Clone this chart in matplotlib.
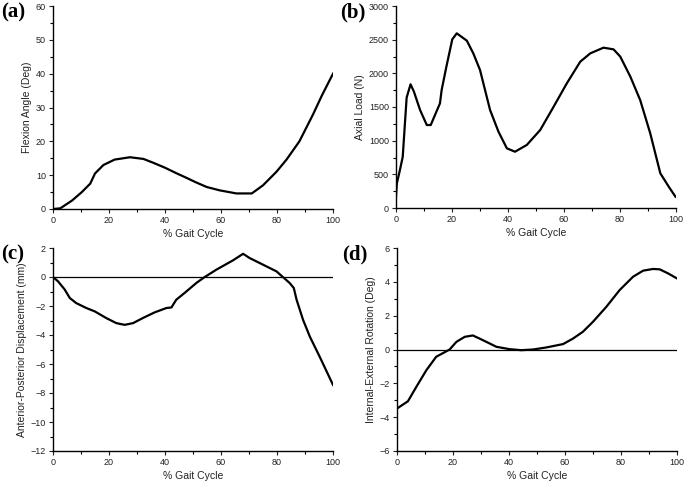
import matplotlib
matplotlib.use("Agg")
import matplotlib.pyplot as plt
from matplotlib.ticker import MultipleLocator

plt.rcParams['font.family'] = ['Liberation Sans', 'DejaVu Sans']

# (a) Flexion angle
flex_x = [0, 2.6, 6.8, 10.3, 13.3, 15, 18, 22, 27.5, 32.3, 36, 40, 44, 47.7, 51, 54.9, 59.6, 65.5, 71, 75, 79.8, 83.4, 88, 92.9, 96, 100]
flex_y = [0, 0.2, 2.5, 5, 7.5, 10.5, 13, 14.6, 15.3, 14.8, 13.6, 12.2, 10.6, 9.2, 7.9, 6.5, 5.5, 4.6, 4.6, 7, 11, 14.6, 20, 28, 33.5, 40]

# (b) Axial load
load_x = [0, 0.3, 1.4, 2.4, 3.8, 5.2, 6.4, 8.6, 11, 12.4, 15.7, 16.3, 18, 20.1, 21.7, 25.3, 27.6, 30, 33.6, 36.6, 39.6, 42.5, 46.7, 51.5, 56.3, 61, 65.8, 69.4, 74.1, 77.7, 80.1, 83.7, 87.2, 90.8, 94.4, 97.4, 99.8]
load_y = [170, 365, 564, 760, 1640, 1837, 1728, 1455, 1232, 1232, 1554, 1752, 2100, 2505, 2594, 2485, 2297, 2050, 1455, 1133, 886, 836, 936, 1158, 1505, 1851, 2173, 2297, 2381, 2356, 2248, 1950, 1604, 1109, 515, 317, 168]

# (c) Anterior-posterior displacement
ap_x = [0, 1.8, 4.2, 6, 8.3, 11.9, 14.9, 19, 22.6, 25.6, 28.6, 32.1, 36.3, 40.5, 42.3, 44, 47, 51.2, 54.2, 58.3, 64.3, 67.9, 70.2, 75, 79.8, 82.1, 84.5, 86, 87, 89.3, 91.7, 95.2, 100]
ap_y = [0, -0.3, -0.87, -1.45, -1.8, -2.14, -2.37, -2.83, -3.18, -3.3, -3.18, -2.83, -2.44, -2.14, -2.1, -1.57, -1.1, -0.41, 0, 0.5, 1.15, 1.6, 1.31, 0.85, 0.39, 0, -0.41, -0.76, -1.57, -2.95, -4.1, -5.48, -7.44]

# (d) Internal-external rotation
rot_x = [0, 3.9, 6.9, 10.5, 14, 18.8, 21.2, 24.2, 27.1, 30.7, 35.5, 40.2, 44.4, 48.6, 53.3, 59.3, 62.9, 66.4, 70, 74.8, 79.5, 84.3, 87.9, 91.4, 93.8, 96.8, 100]
rot_y = [-3.49, -3.06, -2.21, -1.22, -0.43, 0, 0.45, 0.75, 0.83, 0.55, 0.16, 0.02, -0.04, 0, 0.12, 0.32, 0.65, 1.05, 1.64, 2.53, 3.51, 4.3, 4.66, 4.76, 4.74, 4.5, 4.2]

fig = plt.figure(figsize=(6.85, 4.83), dpi=100)

W, H = 685.0, 483.0
def box(l, r, t, b):
    return [l / W, 1 - b / H, (r - l) / W, (b - t) / H]

panels = [
    (box(53, 333, 6, 209), flex_x, flex_y, (0, 60), 10, 5, "Flexion Angle (Deg)", "(a)", (1, 2), False),
    (box(396, 676, 6, 208), load_x, load_y, (0, 3000), 500, 250, "Axial Load (N)", "(b)", (340, 2), False),
    (box(53, 333, 248, 451), ap_x, ap_y, (-12, 2), 2, 1, "Anterior-Posterior Displacement (mm)", "(c)", (1, 244), True),
    (box(397, 677, 248, 451), rot_x, rot_y, (-6, 6), 2, 1, "Internal-External Rotation (Deg)", "(d)", (342, 244), True),
]

for rect, xs, ys, ylim, ymaj, ymin, ylabel, tag, tpos, zero in panels:
    ax = fig.add_axes(rect)
    if zero:
        ax.axhline(0, color='black', lw=0.9)
    ax.plot(xs, ys, color='black', lw=1.6)
    ax.set_xlim(0, 100)
    ax.set_ylim(*ylim)
    ax.xaxis.set_major_locator(MultipleLocator(20))
    ax.xaxis.set_minor_locator(MultipleLocator(10))
    ax.yaxis.set_major_locator(MultipleLocator(ymaj))
    ax.yaxis.set_minor_locator(MultipleLocator(ymin))
    for s in ('top', 'right'):
        ax.spines[s].set_visible(False)
    for s in ('left', 'bottom'):
        ax.spines[s].set_linewidth(1.0)
    ax.tick_params(which='major', direction='out', length=3, width=0.8, labelsize=6.5, colors='#222222', pad=2)
    ax.tick_params(which='minor', direction='out', length=2, width=0.8)
    ax.set_xlabel("% Gait Cycle", fontsize=7.5, color='#222222', labelpad=3)
    ax.set_ylabel(ylabel, fontsize=7.5, color='#222222', labelpad=3)
    fig.text(tpos[0] / W, 1 - tpos[1] / H, tag, fontsize=15, fontweight='bold',
             family='Liberation Serif', ha='left', va='top')

fig.savefig("out.png", dpi=100)
